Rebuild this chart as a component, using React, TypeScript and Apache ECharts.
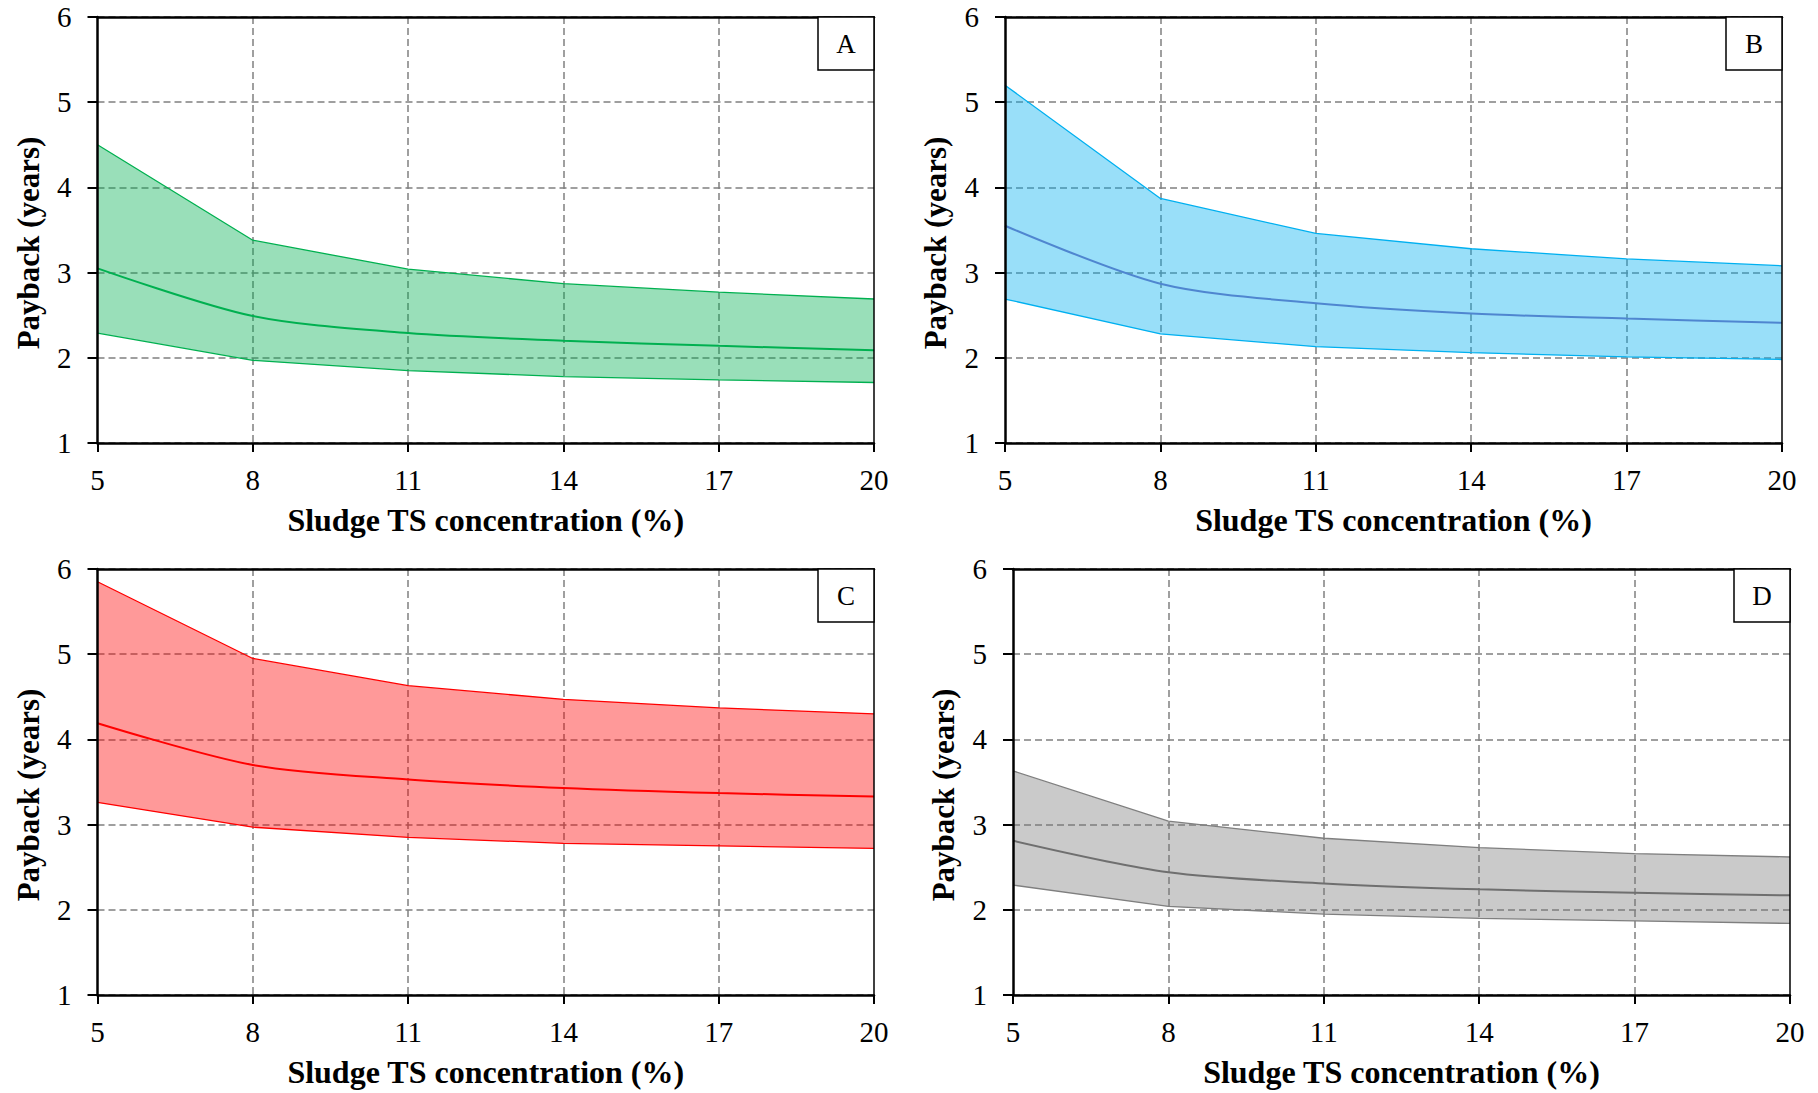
import React, { useEffect, useRef } from "react";
import * as echarts from "echarts";

const xCategories = ["5", "8", "11", "14", "17", "20"];
const yMin = 1;
const yMax = 6;

const lowA = [2.29, 1.97, 1.85, 1.78, 1.74, 1.71];
const midA = [3.05, 2.49, 2.29, 2.2, 2.14, 2.09];
const upA = [4.5, 3.38, 3.04, 2.87, 2.77, 2.69];

const lowB = [2.69, 2.28, 2.13, 2.06, 2.01, 1.98];
const midB = [3.55, 2.87, 2.64, 2.52, 2.46, 2.41];
const upB = [5.2, 3.87, 3.46, 3.28, 3.16, 3.08];

const lowC = [3.26, 2.97, 2.85, 2.78, 2.75, 2.72];
const midC = [4.19, 3.7, 3.53, 3.43, 3.37, 3.33];
const upC = [5.85, 4.95, 4.63, 4.47, 4.37, 4.3];

const lowD = [2.29, 2.04, 1.95, 1.9, 1.87, 1.84];
const midD = [2.81, 2.44, 2.31, 2.24, 2.2, 2.17];
const upD = [3.63, 3.04, 2.84, 2.73, 2.66, 2.62];

const panelLabels = ["A", "B", "C", "D"];
const xTitle = "Sludge TS concentration (%)";
const yTitle = "Payback (years)";

const FONT = "Liberation Serif, serif";

export default function App() {
  const ref = useRef<HTMLDivElement>(null);

  useEffect(() => {
    document.body.style.margin = "0";
    const chart = echarts.init(ref.current as HTMLDivElement, undefined, { renderer: "svg" });

    const panels = [
      { low: lowA, mid: midA, up: upA, line: "#00b050", mid_c: "#00b050", fill: "rgba(0,176,80,0.4)", left: 97.5, top: 17, width: 776.5 },
      { low: lowB, mid: midB, up: upB, line: "#00b0f0", mid_c: "#4f86d0", fill: "rgba(0,176,240,0.4)", left: 1005, top: 17, width: 777 },
      { low: lowC, mid: midC, up: upC, line: "#ff0000", mid_c: "#ff0000", fill: "rgba(255,0,0,0.4)", left: 97.5, top: 569, width: 776.5 },
      { low: lowD, mid: midD, up: upD, line: "#7f7f7f", mid_c: "#6f6f6f", fill: "rgba(122,122,122,0.4)", left: 1013, top: 569, width: 777 },
    ];
    const height = 426;

    const grid: any[] = [];
    const xAxis: any[] = [];
    const yAxis: any[] = [];
    const series: any[] = [];
    const graphic: any[] = [];

    panels.forEach((p, i) => {
      grid.push({ left: p.left, top: p.top, width: p.width, height, containLabel: false });
      xAxis.push({
        type: "category",
        gridIndex: i,
        data: xCategories,
        boundaryGap: false,
        position: "bottom",
        z: 3,
        axisLine: { show: true, lineStyle: { color: "#000", width: 2.5 } },
        axisTick: { show: true, inside: false, length: 9, lineStyle: { color: "#000", width: 2 } },
        axisLabel: { show: true, color: "#000", fontFamily: FONT, fontSize: 29, margin: 22 },
        splitLine: { show: false },
        name: xTitle,
        nameLocation: "middle",
        nameGap: 61,
        nameTextStyle: { color: "#000", fontFamily: FONT, fontSize: 32, fontWeight: "bold" },
      });
      xAxis.push({
        type: "category",
        gridIndex: i,
        data: xCategories,
        boundaryGap: false,
        position: "top",
        z: 3,
        axisLine: { show: true, lineStyle: { color: "#000", width: 2.5 } },
        axisTick: { show: false },
        axisLabel: { show: false },
        splitLine: { show: false },
      });
      xAxis.push({
        type: "category",
        gridIndex: i,
        data: xCategories,
        boundaryGap: false,
        position: "bottom",
        z: 1,
        axisLine: { show: false },
        axisTick: { show: false },
        axisLabel: { show: false },
        splitLine: {
          show: true,
          interval: (idx: number) => idx > 0 && idx < xCategories.length - 1,
          lineStyle: { color: "#808080", width: 1.5, type: [7, 4] },
        },
      });
      yAxis.push({
        type: "value",
        gridIndex: i,
        min: yMin,
        max: yMax,
        interval: 1,
        position: "left",
        z: 3,
        axisLine: { show: true, lineStyle: { color: "#000", width: 2.5 } },
        axisTick: { show: true, inside: false, length: 10, lineStyle: { color: "#000", width: 2 } },
        axisLabel: { show: true, color: "#000", fontFamily: FONT, fontSize: 29, margin: 26 },
        splitLine: { show: false },
        name: yTitle,
        nameLocation: "middle",
        nameGap: 54,
        nameTextStyle: { color: "#000", fontFamily: FONT, fontSize: 31, fontWeight: "bold", padding: [0, 26, 0, 0] },
      });
      yAxis.push({
        type: "value",
        gridIndex: i,
        min: yMin,
        max: yMax,
        interval: 1,
        position: "right",
        z: 3,
        axisLine: { show: true, lineStyle: { color: "#000", width: 1.5 } },
        axisTick: { show: false },
        axisLabel: { show: false },
        splitLine: { show: false },
      });
      yAxis.push({
        type: "value",
        gridIndex: i,
        min: yMin,
        max: yMax,
        interval: 1,
        position: "left",
        z: 1,
        axisLine: { show: false },
        axisTick: { show: false },
        axisLabel: { show: false },
        splitLine: { show: true, lineStyle: { color: "#808080", width: 1.5, type: [7, 4] } },
      });

      const diff = p.up.map((u, k) => Math.round((u - p.low[k]) * 1000) / 1000);
      series.push({
        type: "line",
        xAxisIndex: i * 3,
        yAxisIndex: i * 3,
        data: p.low,
        stack: "band" + i,
        symbol: "none",
        lineStyle: { color: p.line, width: 1.3 },
        z: 2,
      });
      series.push({
        type: "line",
        xAxisIndex: i * 3,
        yAxisIndex: i * 3,
        data: diff,
        stack: "band" + i,
        symbol: "none",
        lineStyle: { color: p.line, width: 1.3 },
        areaStyle: { color: p.fill, opacity: 1 },
        z: 2,
      });
      series.push({
        type: "line",
        xAxisIndex: i * 3,
        yAxisIndex: i * 3,
        data: p.mid,
        symbol: "none",
        smooth: 0.3,
        lineStyle: { color: p.mid_c, width: 2 },
        z: 2,
      });

      const right = p.left + p.width;
      const bw = 56;
      const bh = 53;
      graphic.push({
        type: "rect",
        z: 10,
        shape: { x: right - bw, y: p.top, width: bw, height: bh },
        style: { fill: "#fff", stroke: "#000", lineWidth: 1.5 },
      });
      graphic.push({
        type: "text",
        z: 11,
        x: right - bw / 2,
        y: p.top + bh / 2,
        style: {
          text: panelLabels[i],
          fontFamily: FONT,
          fontSize: 27,
          fill: "#000",
          align: "center",
          verticalAlign: "middle",
        },
      });
    });

    chart.setOption({
      animation: false,
      backgroundColor: "#fff",
      grid,
      xAxis,
      yAxis,
      series,
      graphic,
    });

    return () => {
      chart.dispose();
    };
  }, []);

  return <div ref={ref} style={{ width: 1818, height: 1093 }} />;
}
